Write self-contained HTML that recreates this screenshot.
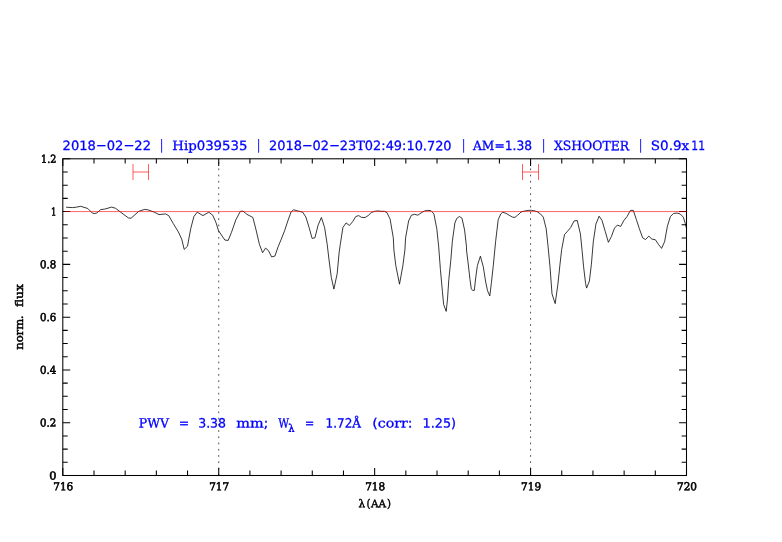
<!DOCTYPE html>
<html><head><meta charset="utf-8"><title>plot</title>
<style>
html,body{margin:0;padding:0;background:#fff;}
body{width:782px;height:542px;overflow:hidden;}
svg{display:block;}
text{white-space:pre;}
.ax{font-family:"DejaVu Serif","Liberation Serif",serif;font-weight:normal;font-size:10.9px;fill:#000;stroke:#000;stroke-width:0.6px;}
.ti{font-family:"DejaVu Serif","Liberation Serif",serif;font-weight:normal;font-size:12.8px;fill:#0000ff;stroke:#0000ff;stroke-width:0.48px;}
.tl{stroke-width:0.3px;}
</style></head><body>
<svg width="782" height="542" viewBox="0 0 782 542">
<rect width="782" height="542" fill="#fff"/>

<line x1="218.73" y1="475.5" x2="218.73" y2="158.8" stroke="#000" stroke-width="0.7" stroke-dasharray="1.7 4.532"/>
<line x1="530.58" y1="475.5" x2="530.58" y2="158.8" stroke="#000" stroke-width="0.7" stroke-dasharray="1.7 4.532"/>
<g stroke="#000" stroke-width="1.05" fill="none" stroke-linecap="butt">
<rect x="62.8" y="158.8" width="623.7" height="316.7"/>
<path d="M62.80 475.5v-7.6M62.80 158.8v7.3M93.99 475.5v-4.9M93.99 158.8v4.6M125.17 475.5v-4.9M125.17 158.8v4.6M156.36 475.5v-4.9M156.36 158.8v4.6M187.54 475.5v-4.9M187.54 158.8v4.6M218.73 475.5v-7.6M218.73 158.8v7.3M249.91 475.5v-4.9M249.91 158.8v4.6M281.09 475.5v-4.9M281.09 158.8v4.6M312.28 475.5v-4.9M312.28 158.8v4.6M343.46 475.5v-4.9M343.46 158.8v4.6M374.65 475.5v-7.6M374.65 158.8v7.3M405.84 475.5v-4.9M405.84 158.8v4.6M437.02 475.5v-4.9M437.02 158.8v4.6M468.21 475.5v-4.9M468.21 158.8v4.6M499.39 475.5v-4.9M499.39 158.8v4.6M530.58 475.5v-7.6M530.58 158.8v7.3M561.76 475.5v-4.9M561.76 158.8v4.6M592.94 475.5v-4.9M592.94 158.8v4.6M624.13 475.5v-4.9M624.13 158.8v4.6M655.31 475.5v-4.9M655.31 158.8v4.6M686.50 475.5v-7.6M686.50 158.8v7.3M62.8 475.50h7.4M686.5 475.50h-7.4M62.8 462.30h4.9M686.5 462.30h-4.9M62.8 449.11h4.9M686.5 449.11h-4.9M62.8 435.91h4.9M686.5 435.91h-4.9M62.8 422.72h7.4M686.5 422.72h-7.4M62.8 409.52h4.9M686.5 409.52h-4.9M62.8 396.32h4.9M686.5 396.32h-4.9M62.8 383.13h4.9M686.5 383.13h-4.9M62.8 369.93h7.4M686.5 369.93h-7.4M62.8 356.74h4.9M686.5 356.74h-4.9M62.8 343.54h4.9M686.5 343.54h-4.9M62.8 330.35h4.9M686.5 330.35h-4.9M62.8 317.15h7.4M686.5 317.15h-7.4M62.8 303.95h4.9M686.5 303.95h-4.9M62.8 290.76h4.9M686.5 290.76h-4.9M62.8 277.56h4.9M686.5 277.56h-4.9M62.8 264.37h7.4M686.5 264.37h-7.4M62.8 251.17h4.9M686.5 251.17h-4.9M62.8 237.98h4.9M686.5 237.98h-4.9M62.8 224.78h4.9M686.5 224.78h-4.9M62.8 211.58h7.4M686.5 211.58h-7.4M62.8 198.39h4.9M686.5 198.39h-4.9M62.8 185.19h4.9M686.5 185.19h-4.9M62.8 172.00h4.9M686.5 172.00h-4.9M62.8 158.80h7.4M686.5 158.80h-7.4"/>
</g>
<path d="M66.1 207.2 L72.3 207.6 L76.2 207.2 L80.7 206.3 L87.8 208.5 L92.3 213.0 L94.2 213.6 L96.8 213.0 L100.7 209.6 L104.6 209.1 L111.7 207.1 L115.6 208.3 L120.7 212.2 L128.5 218.0 L131.1 218.2 L138.8 211.3 L144.6 209.4 L147.9 209.8 L154.3 212.2 L159.0 214.6 L165.5 213.9 L168.7 215.6 L173.3 223.6 L178.4 232.0 L181.7 239.1 L184.2 249.4 L187.5 246.2 L190.7 228.8 L193.9 216.5 L197.2 212.2 L203.0 215.6 L208.8 212.2 L212.7 215.2 L215.9 222.3 L218.5 230.7 L224.9 240.1 L228.2 240.4 L231.4 232.6 L235.9 219.7 L240.4 211.3 L243.0 211.1 L246.9 214.3 L252.9 217.5 L256.1 230.1 L259.4 244.3 L262.6 252.7 L265.6 248.1 L268.4 250.5 L271.6 256.9 L274.9 256.1 L278.1 246.8 L281.3 239.1 L284.6 230.7 L287.8 221.0 L291.0 212.0 L293.6 209.8 L296.9 210.7 L302.7 212.2 L305.9 217.1 L309.1 227.5 L312.1 238.4 L314.9 237.8 L318.2 224.9 L321.4 217.5 L324.6 227.5 L327.2 244.3 L328.8 258.1 L331.3 277.5 L333.9 289.1 L337.2 273.6 L339.1 252.9 L340.3 244.3 L342.9 227.5 L346.1 222.9 L349.4 225.5 L352.6 221.7 L355.8 216.5 L358.7 215.6 L361.6 217.4 L365.1 217.5 L368.1 215.6 L371.3 212.6 L374.6 211.3 L377.8 210.9 L381.0 211.3 L384.3 211.3 L386.9 212.6 L390.1 219.1 L393.3 237.8 L393.9 250.0 L395.8 265.5 L399.5 284.2 L402.9 265.5 L404.9 250.0 L405.6 237.8 L408.6 221.0 L411.4 215.2 L414.6 214.3 L417.9 215.2 L421.1 212.9 L424.3 211.1 L424.5 210.9 L427.8 210.4 L431.0 210.7 L433.9 213.9 L436.8 228.8 L438.7 246.8 L440.4 269.4 L442.4 291.3 L443.6 304.3 L446.2 311.4 L447.5 299.1 L448.8 279.7 L450.8 260.3 L452.3 241.7 L454.9 222.9 L456.8 218.4 L459.4 216.5 L462.0 218.2 L464.6 230.1 L466.5 246.8 L466.5 250.0 L468.1 262.9 L470.0 279.7 L471.3 288.8 L472.6 290.4 L474.3 290.4 L475.8 277.1 L477.4 265.5 L480.4 256.2 L483.3 266.8 L485.5 281.0 L487.5 290.7 L489.8 295.9 L491.3 283.6 L493.3 265.5 L495.6 241.7 L498.2 219.7 L500.8 213.9 L502.7 212.3 L505.9 213.3 L509.1 215.2 L512.4 217.1 L515.0 217.4 L517.5 215.2 L517.8 215.2 L521.0 212.0 L524.2 211.1 L528.1 210.4 L531.3 210.3 L533.9 210.7 L537.1 211.7 L540.4 213.9 L543.3 217.1 L546.2 228.8 L548.1 246.8 L548.4 250.0 L550.0 266.8 L552.0 293.9 L555.2 303.6 L557.8 284.9 L560.0 264.2 L561.7 249.4 L564.5 234.6 L567.5 231.3 L570.7 227.5 L574.0 221.0 L577.2 220.4 L580.4 233.9 L582.1 250.7 L583.6 266.8 L585.6 283.6 L586.6 288.1 L589.4 281.0 L591.4 264.2 L593.3 241.7 L595.9 224.2 L599.1 216.2 L602.0 220.4 L605.2 231.3 L608.4 242.3 L611.4 236.5 L614.5 228.1 L617.4 225.1 L620.7 226.4 L623.9 220.4 L627.1 216.5 L630.4 210.4 L633.3 210.4 L636.4 219.7 L639.4 228.8 L642.6 237.8 L645.5 239.5 L648.8 236.2 L651.9 239.1 L655.3 239.7 L658.4 244.3 L661.6 248.4 L664.6 241.7 L667.4 226.2 L670.4 216.5 L673.6 213.5 L676.9 213.0 L680.1 213.9 L683.3 217.1 L685.3 223.6 L686.6 228.8" stroke="#000" stroke-width="0.78" fill="none" stroke-linejoin="round"/>
<line x1="65.4" y1="211.58" x2="686.5" y2="211.58" stroke="#ff0000" stroke-width="0.62"/>
<path d="M133.0 164v16M148.5 164v16 M133.0 172H148.5" stroke="#ff0000" stroke-width="0.64" fill="none"/>
<path d="M522.5 164v16M538.5 164v16 M522.5 172H538.5" stroke="#ff0000" stroke-width="0.64" fill="none"/>
<text class="ax" x="53.3" y="490.3" transform="rotate(0.04 53.3 490.3)" textLength="20.00" lengthAdjust="spacingAndGlyphs">716</text>
<text class="ax" x="209.2" y="490.3" transform="rotate(0.04 209.2 490.3)" textLength="20.00" lengthAdjust="spacingAndGlyphs">717</text>
<text class="ax" x="365.2" y="490.3" transform="rotate(0.04 365.2 490.3)" textLength="20.00" lengthAdjust="spacingAndGlyphs">718</text>
<text class="ax" x="521.1" y="490.3" transform="rotate(0.04 521.1 490.3)" textLength="20.00" lengthAdjust="spacingAndGlyphs">719</text>
<text class="ax" x="677.0" y="490.3" transform="rotate(0.04 677.0 490.3)" textLength="20.00" lengthAdjust="spacingAndGlyphs">720</text>
<text class="ax" x="49.199999999999996" y="479.4" transform="rotate(0.04 49.199999999999996 479.4)" textLength="7.20" lengthAdjust="spacingAndGlyphs">0</text>
<text class="ax" x="40.099999999999994" y="426.6" transform="rotate(0.04 40.099999999999994 426.6)" textLength="16.30" lengthAdjust="spacingAndGlyphs">0.2</text>
<text class="ax" x="40.099999999999994" y="373.8" transform="rotate(0.04 40.099999999999994 373.8)" textLength="16.30" lengthAdjust="spacingAndGlyphs">0.4</text>
<text class="ax" x="40.099999999999994" y="321.0" transform="rotate(0.04 40.099999999999994 321.0)" textLength="16.30" lengthAdjust="spacingAndGlyphs">0.6</text>
<text class="ax" x="40.099999999999994" y="268.3" transform="rotate(0.04 40.099999999999994 268.3)" textLength="16.30" lengthAdjust="spacingAndGlyphs">0.8</text>
<text class="ax" x="51.0" y="215.5" transform="rotate(0.04 51.0 215.5)" textLength="5.40" lengthAdjust="spacingAndGlyphs">1</text>
<text class="ax" x="41.099999999999994" y="162.7" transform="rotate(0.04 41.099999999999994 162.7)" textLength="15.30" lengthAdjust="spacingAndGlyphs">1.2</text>
<text class="ax" x="358.4" y="507.2" transform="rotate(0.04 358.4 507.2)" textLength="6.60" lengthAdjust="spacingAndGlyphs" style="font-size:10.8px;stroke-width:0.5px">λ</text><text class="ax" x="366.4" y="507.2" transform="rotate(0.04 366.4 507.2)" textLength="4.00" lengthAdjust="spacingAndGlyphs" style="font-size:11.2px;stroke-width:0.4px">(</text><text class="ax" x="370.9" y="507.2" transform="rotate(0.04 370.9 507.2)" textLength="15.20" lengthAdjust="spacingAndGlyphs" style="font-size:10.4px;stroke-width:0.4px">AA</text><text class="ax" x="387" y="507.2" transform="rotate(0.04 387 507.2)" textLength="4.00" lengthAdjust="spacingAndGlyphs" style="font-size:11.2px;stroke-width:0.4px">)</text>
<text class="ax" transform="translate(23.3 349.8) rotate(-90)" textLength="34.6" lengthAdjust="spacingAndGlyphs" style="font-size:11.6px;stroke-width:0.5px">norm.</text> <text class="ax" transform="translate(23.3 307.1) rotate(-90)" textLength="23" lengthAdjust="spacingAndGlyphs" style="font-size:11.6px;stroke-width:0.5px">flux</text>
<g><text class="ti" x="62.6" y="150.1" transform="rotate(0.04 62.6 150.1)" textLength="33.25" lengthAdjust="spacingAndGlyphs" style="font-family:'DejaVu Sans','Liberation Sans',sans-serif;stroke-width:0.28px">2018</text><text class="ti" transform="translate(95.84 150.1) scale(2.56 1.13)" x="0" y="0" style="stroke-width:0.1px">-</text><text class="ti" x="106.78" y="150.1" transform="rotate(0.04 106.78 150.1)" textLength="16.64" lengthAdjust="spacingAndGlyphs" style="font-family:'DejaVu Sans','Liberation Sans',sans-serif;stroke-width:0.28px">02</text><text class="ti" transform="translate(123.4 150.1) scale(2.56 1.13)" x="0" y="0" style="stroke-width:0.1px">-</text><text class="ti" x="134.35" y="150.1" transform="rotate(0.04 134.35 150.1)" textLength="16.65" lengthAdjust="spacingAndGlyphs" style="font-family:'DejaVu Sans','Liberation Sans',sans-serif;stroke-width:0.28px">22</text> <text class="ti" x="161.5" y="149.6" transform="rotate(0.04 161.5 149.6)" text-anchor="middle" style="font-size:13.9px;stroke-width:0;fill-opacity:0.85">|</text> <text class="ti tl" x="172.3" y="150.1" transform="rotate(0.04 172.3 150.1)" textLength="24.39" lengthAdjust="spacingAndGlyphs">Hip</text><text class="ti" x="196.68" y="150.1" transform="rotate(0.04 196.68 150.1)" textLength="50.82" lengthAdjust="spacingAndGlyphs" style="font-family:'DejaVu Sans','Liberation Sans',sans-serif;stroke-width:0.28px">039535</text> <text class="ti" x="258.6" y="149.6" transform="rotate(0.04 258.6 149.6)" text-anchor="middle" style="font-size:13.9px;stroke-width:0;fill-opacity:0.85">|</text> <text class="ti" x="269" y="150.1" transform="rotate(0.04 269 150.1)" textLength="32.85" lengthAdjust="spacingAndGlyphs" style="font-family:'DejaVu Sans','Liberation Sans',sans-serif;stroke-width:0.28px">2018</text><text class="ti" transform="translate(301.83 150.1) scale(2.56 1.13)" x="0" y="0" style="stroke-width:0.1px">-</text><text class="ti" x="312.64" y="150.1" transform="rotate(0.04 312.64 150.1)" textLength="16.43" lengthAdjust="spacingAndGlyphs" style="font-family:'DejaVu Sans','Liberation Sans',sans-serif;stroke-width:0.28px">02</text><text class="ti" transform="translate(329.06 150.1) scale(2.56 1.13)" x="0" y="0" style="stroke-width:0.1px">-</text><text class="ti" x="339.87" y="150.1" transform="rotate(0.04 339.87 150.1)" textLength="16.43" lengthAdjust="spacingAndGlyphs" style="font-family:'DejaVu Sans','Liberation Sans',sans-serif;stroke-width:0.28px">23</text><text class="ti tl" x="356.29" y="150.1" transform="rotate(0.04 356.29 150.1)" textLength="8.62" lengthAdjust="spacingAndGlyphs">T</text><text class="ti" x="364.89" y="150.1" transform="rotate(0.04 364.89 150.1)" textLength="86.71" lengthAdjust="spacingAndGlyphs" style="font-family:'DejaVu Sans','Liberation Sans',sans-serif;stroke-width:0.28px">02:49:10.720</text> <text class="ti" x="463.5" y="149.6" transform="rotate(0.04 463.5 149.6)" text-anchor="middle" style="font-size:13.9px;stroke-width:0;fill-opacity:0.85">|</text> <text class="ti tl" x="473" y="150.1" transform="rotate(0.04 473 150.1)" textLength="21.43" lengthAdjust="spacingAndGlyphs">AM</text><text class="ti" x="494.41" y="150.1" transform="rotate(0.04 494.41 150.1)" textLength="37.59" lengthAdjust="spacingAndGlyphs" style="font-family:'DejaVu Sans','Liberation Sans',sans-serif;stroke-width:0.28px">=1.38</text> <text class="ti" x="543.6" y="149.6" transform="rotate(0.04 543.6 149.6)" text-anchor="middle" style="font-size:13.9px;stroke-width:0;fill-opacity:0.85">|</text> <text class="ti tl" x="554" y="150.1" transform="rotate(0.04 554 150.1)" textLength="75.00" lengthAdjust="spacingAndGlyphs">XSHOOTER</text> <text class="ti" x="640.6" y="149.6" transform="rotate(0.04 640.6 149.6)" text-anchor="middle" style="font-size:13.9px;stroke-width:0;fill-opacity:0.85">|</text> <text class="ti tl" x="650.8" y="150.1" transform="rotate(0.04 650.8 150.1)" textLength="9.30" lengthAdjust="spacingAndGlyphs">S</text><text class="ti" x="660.09" y="150.1" transform="rotate(0.04 660.09 150.1)" textLength="21.56" lengthAdjust="spacingAndGlyphs" style="font-family:'DejaVu Sans','Liberation Sans',sans-serif;stroke-width:0.28px">0.9</text><text class="ti tl" x="681.64" y="150.1" transform="rotate(0.04 681.64 150.1)" textLength="7.66" lengthAdjust="spacingAndGlyphs">x</text><text class="ti" x="691.3" y="150.1" transform="rotate(0.04 691.3 150.1)" textLength="13.70" lengthAdjust="spacingAndGlyphs" style="font-family:'DejaVu Sans','Liberation Sans',sans-serif;stroke-width:0.28px">11</text></g>
<g><text class="ti tl" x="138.8" y="427.4" transform="rotate(0.04 138.8 427.4)" textLength="30.20" lengthAdjust="spacingAndGlyphs">PWV</text> <text class="ti" x="179" y="427.4" transform="rotate(0.04 179 427.4)" textLength="10.00" lengthAdjust="spacingAndGlyphs" style="font-family:'DejaVu Sans','Liberation Sans',sans-serif;stroke-width:0.28px">=</text> <text class="ti" x="198.2" y="427.4" transform="rotate(0.04 198.2 427.4)" textLength="27.80" lengthAdjust="spacingAndGlyphs" style="font-family:'DejaVu Sans','Liberation Sans',sans-serif;stroke-width:0.28px">3.38</text> <text class="ti tl" x="236.2" y="427.4" transform="rotate(0.04 236.2 427.4)" textLength="27.43" lengthAdjust="spacingAndGlyphs">mm</text><text class="ti" x="263.61" y="427.4" transform="rotate(0.04 263.61 427.4)" textLength="4.89" lengthAdjust="spacingAndGlyphs" style="font-family:'DejaVu Sans','Liberation Sans',sans-serif;stroke-width:0.28px">;</text> <text class="ti tl" x="278.2" y="427.4" transform="rotate(0.04 278.2 427.4)" textLength="10.80" lengthAdjust="spacingAndGlyphs">W</text><text class="ti" x="288.2" y="431.7" transform="rotate(0.04 288.2 431.7)" textLength="6.20" lengthAdjust="spacingAndGlyphs" style="font-size:10.6px">λ</text> <text class="ti" x="305" y="427.4" transform="rotate(0.04 305 427.4)" textLength="9.20" lengthAdjust="spacingAndGlyphs" style="font-family:'DejaVu Sans','Liberation Sans',sans-serif;stroke-width:0.28px">=</text> <text class="ti" x="325.6" y="427.4" transform="rotate(0.04 325.6 427.4)" textLength="26.73" lengthAdjust="spacingAndGlyphs" style="font-family:'DejaVu Sans','Liberation Sans',sans-serif;stroke-width:0.28px">1.72</text><text class="ti tl" x="352.31" y="427.4" transform="rotate(0.04 352.31 427.4)" textLength="8.69" lengthAdjust="spacingAndGlyphs">Å</text> <text class="ti" x="372.3" y="427.4" transform="rotate(0.04 372.3 427.4)" textLength="5.53" lengthAdjust="spacingAndGlyphs" style="font-family:'DejaVu Sans','Liberation Sans',sans-serif;stroke-width:0.28px">(</text><text class="ti tl" x="377.82" y="427.4" transform="rotate(0.04 377.82 427.4)" textLength="30.01" lengthAdjust="spacingAndGlyphs">corr</text><text class="ti" x="407.81" y="427.4" transform="rotate(0.04 407.81 427.4)" textLength="4.79" lengthAdjust="spacingAndGlyphs" style="font-family:'DejaVu Sans','Liberation Sans',sans-serif;stroke-width:0.28px">:</text> <text class="ti" x="422.6" y="427.4" transform="rotate(0.04 422.6 427.4)" textLength="33.40" lengthAdjust="spacingAndGlyphs" style="font-family:'DejaVu Sans','Liberation Sans',sans-serif;stroke-width:0.28px">1.25)</text></g>
</svg></body></html>
